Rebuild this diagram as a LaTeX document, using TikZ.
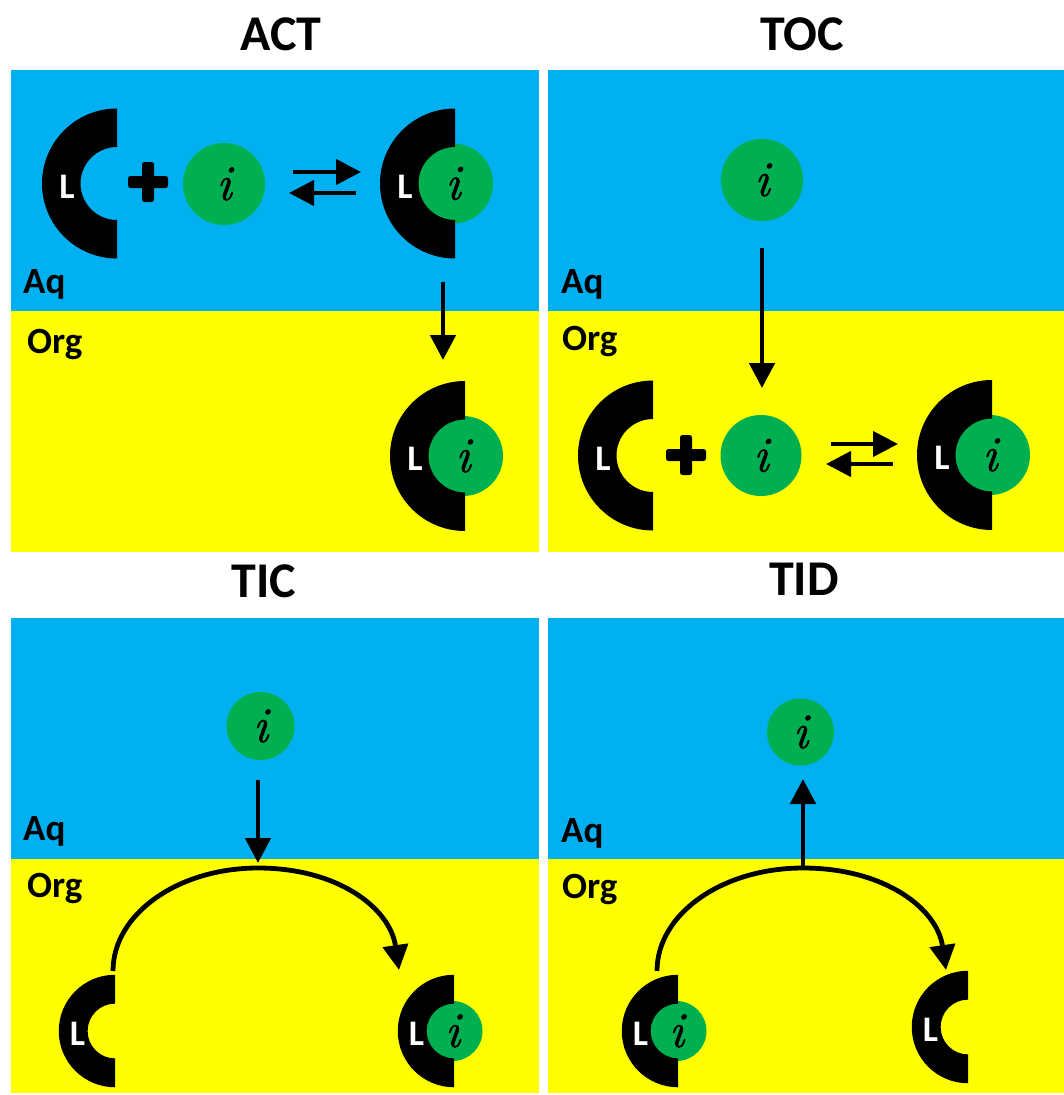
\documentclass[tikz,border=0pt]{standalone}
\usepackage{fontspec}
\setmainfont{Carlito}
\newfontfamily\ionfont{Latin Modern Roman}[ItalicFeatures={FakeBold=1.3}]
\usetikzlibrary{arrows.meta,calc}
\definecolor{aqblue}{HTML}{00B0F0}
\definecolor{orgyellow}{HTML}{FFFF00}
\definecolor{iongreen}{HTML}{00B050}
\tikzset{
  ttl/.style={font=\fontsize{50}{50}\selectfont\bfseries, anchor=base, inner sep=0pt},
  phase/.style={font=\fontsize{37}{37}\selectfont\bfseries, anchor=base west, inner sep=0pt},
  ltr/.style={font=\fontsize{36}{36}\selectfont\bfseries, text=white, inner sep=0pt},
  ionball/.style={circle, fill=iongreen, inner sep=0pt, minimum size=#1,
     font=\ionfont\fontsize{50}{50}\selectfont\itshape},
  arr/.style={line width=4.8pt, -{Triangle[length=25pt,width=25pt]}},
  eqarr/.style={line width=4.2pt, -{Triangle[length=25pt,width=25pt]}},
}
% #1 name, #2 flat-edge x, #3 centre y (px, downwards), #4 scale
\newcommand\ligand[4]{%
  \coordinate (#1) at (#2,-#3);
  \fill[black] (#1) ++(0,{75*#4}) arc[start angle=90,end angle=270,radius={75pt*#4}]
     -- ++(0,{38.5*#4}) arc[start angle=270,end angle=90,radius={36.5pt*#4}] -- cycle;
  \node[ltr] (#1L) at ($(#1)+({-50*#4},-3)$) {L};
}
\newcommand\complexLI[4]{%
  \node[ionball={80pt*#4}] (#1i) at ({#2-2*#4},-#3) {i};
  \ligand{#1}{#2}{#3}{#4}%
}
\newcommand\plussign[3]{%
  \coordinate (#1) at (#2,-#3);
  \fill[black, rounded corners=2.5pt] ($(#1)+(-20,-6)$) rectangle ($(#1)+(20,6)$);
  \fill[black, rounded corners=2.5pt] ($(#1)+(-6,-20)$) rectangle ($(#1)+(6,20)$);
}
\begin{document}
\begin{tikzpicture}[x=1pt,y=1pt]
\useasboundingbox (0,0) rectangle (1064,-1095);
\fill[white] (0,0) rectangle (1064,-1095);
% panels
\fill[aqblue] (11,-70) rectangle (539,-311);
\fill[orgyellow] (11,-311) rectangle (539,-552);
\fill[aqblue] (548,-70) rectangle (1064,-311);
\fill[orgyellow] (548,-311) rectangle (1064,-552);
\fill[aqblue] (11,-618) rectangle (539,-859);
\fill[orgyellow] (11,-859) rectangle (539,-1093);
\fill[aqblue] (548,-618) rectangle (1064,-859);
\fill[orgyellow] (548,-859) rectangle (1064,-1093);
% titles
\node[ttl] (tACT) at (281,-50) {ACT};
\node[ttl] (tTOC) at (802,-50) {TOC};
\node[ttl] (tTIC) at (264,-597) {TIC};
\node[ttl] (tTID) at (804,-595) {TID};
% phase labels
\node[phase] (aq1) at (23,-293) {Aq};
\node[phase] (org1) at (27,-353) {Org};
\node[phase] (aq2) at (561,-293) {Aq};
\node[phase] (org2) at (562,-350) {Org};
\node[phase] (aq3) at (23,-840) {Aq};
\node[phase] (org3) at (27,-897) {Org};
\node[phase] (aq4) at (561,-842) {Aq};
\node[phase] (org4) at (562,-898) {Org};
% ---------- ACT
\ligand{LA}{117}{183.5}{1}
\plussign{pA}{148}{182}
\node[ionball=82pt] (iA) at (224,-184) {i};
\coordinate (eAa) at (293,-172); \coordinate (eAb) at (361,-172);
\coordinate (eAc) at (356,-193); \coordinate (eAd) at (289,-193);
\draw[eqarr] (eAa) -- (eAb);
\draw[eqarr] (eAc) -- (eAd);
\complexLI{CA}{455}{183.5}{1}
\coordinate (dAa) at (443,-282); \coordinate (dAb) at (443,-360);
\draw[arr] (dAa) -- (dAb);
\complexLI{CB}{465}{456}{1}
% ---------- TOC
\node[ionball=82pt] (iB) at (762,-180) {i};
\coordinate (dBa) at (762,-248); \coordinate (dBb) at (762,-388);
\draw[arr] (dBa) -- (dBb);
\ligand{LB}{653}{455.5}{1}
\plussign{pB}{686}{455}
\node[ionball=81pt] (iC) at (761,-455.5) {i};
\coordinate (eBa) at (831,-444); \coordinate (eBb) at (898,-444);
\coordinate (eBc) at (893,-464); \coordinate (eBd) at (826,-464);
\draw[eqarr] (eBa) -- (eBb);
\draw[eqarr] (eBc) -- (eBd);
\complexLI{CC}{992}{455}{1}
% ---------- TIC
\node[ionball=68pt] (iD) at (260.5,-726) {i};
\coordinate (dCa) at (258,-780); \coordinate (dCb) at (258,-863);
\draw[arr] (dCa) -- (dCb);
\ligand{LC}{115}{1031}{0.75}
\complexLI{CD}{454}{1031}{0.75}
\coordinate (aCs) at (113,-971); \coordinate (aCt) at (258,-868); \coordinate (aCe) at (399,-970);
\draw[arr] (aCs) .. controls (113,-914) and (178,-868) .. (aCt)
   .. controls (338,-868) and (390,-908) .. (aCe);
% ---------- TID
\node[ionball=67pt] (iE) at (800.5,-732) {i};
\coordinate (dDa) at (803,-867); \coordinate (dDb) at (803,-779);
\draw[arr] (dDa) -- (dDb);
\complexLI{CE}{678}{1031}{0.75}
\ligand{LD}{968}{1027}{0.75}
\coordinate (aDs) at (657,-971); \coordinate (aDt) at (803,-868); \coordinate (aDe) at (946,-970);
\draw[arr] (aDs) .. controls (657,-914) and (722,-868) .. (aDt)
   .. controls (884,-868) and (937,-908) .. (aDe);
\end{tikzpicture}
\end{document}
